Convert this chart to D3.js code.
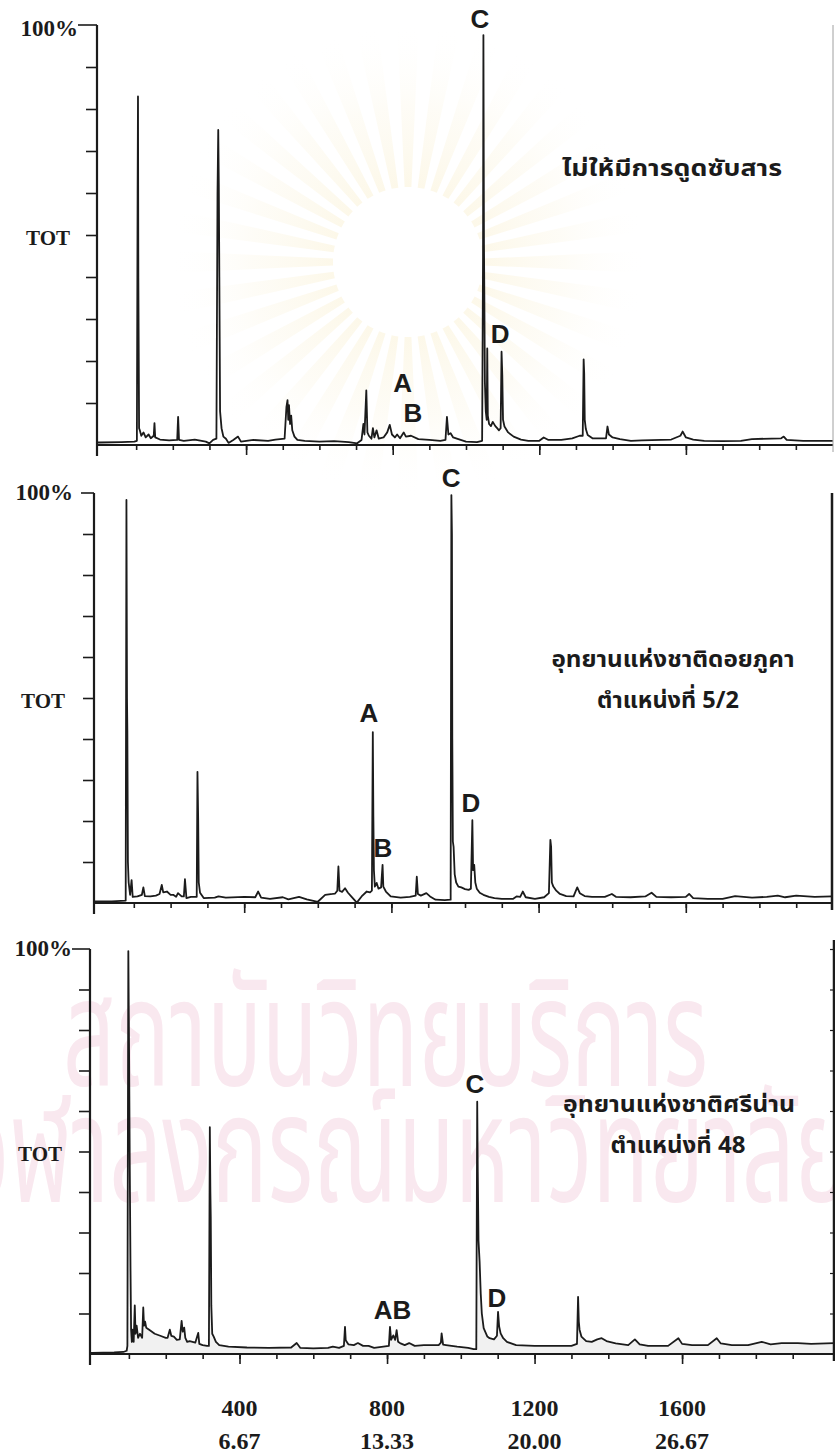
<!DOCTYPE html>
<html>
<head>
<meta charset="utf-8">
<script src="https://cdn.jsdelivr.net/npm/d3@7"></script>
<style>
  html, body { margin: 0; padding: 0; background: #ffffff; }
  svg { display: block; }
</style>
</head>
<body>
<svg id="chart" width="835" height="1452"></svg>
<script>
// Total-ion chromatograms: [scan number, relative intensity %]
const traceControl = [
  [-7,0.6],[0,0.6],[60,0.7],[95,0.8],[102,1.0],[104,60],[105,83],[106,40],[108,4],[110,3.5],[114,2.2],[120,3],
  [126,1.8],[134,2.5],[140,1.6],[148,2.2],[150,5.2],[152,1.8],[165,1.3],[190,1.1],[212,1.2],[214.5,6.7],[217,1.2],
  [230,1.0],[260,1.3],[290,0.8],[300,0.4],[310,1.2],[319,1.5],[322,60],[324,75],[325.5,62],[327,40],[329,8],
  [333,4],[338,2],[345,1.5],[352,0.5],[365,1.2],[378,2.0],[386,0.8],[420,1.2],[460,1.0],[480,1.3],[505,1.5],
  [510,9],[513,10.7],[515,6],[517,9.5],[520,5],[523,7],[526,3.5],[532,2],[540,1.2],[560,1.0],[600,0.8],[640,0.9],
  [680,0.7],[703,0.4],[715,1.2],[720,5],[723,2.5],[728,13],[731,3],[735,2.2],[742,1.5],[746,4],[750,1.8],
  [756,3.5],[762,1.5],[775,1.8],[785,3],[792,4.8],[798,2.5],[806,1.8],[812,2.5],[820,1.6],[830,3],[836,2],
  [850,2.2],[870,1.4],[900,1.2],[930,1.0],[944,1.2],[948,6.7],[952,2.5],[958,2.8],[965,1.8],[975,1.5],
  [1000,0.8],[1030,0.7],[1044,1.0],[1046.5,45],[1047.5,97.6],[1049,48],[1050,36],[1051.5,15],[1054,8],
  [1056.5,6],[1058,23],[1059.5,7],[1063,5],[1068,4.5],[1073,5.5],[1080,4.5],[1085,4],[1090,3.5],[1094.5,4],
  [1097,22.2],[1099,16.7],[1101,6],[1105,4.4],[1115,3],[1130,2],[1150,1.3],[1170,1.0],[1200,1.0],[1212,1.8],
  [1225,1.2],[1260,1.2],[1290,1.6],[1310,2.2],[1318.5,2.2],[1321,20.4],[1322.5,17],[1324,6],[1327,3.8],
  [1332,2.4],[1345,1.6],[1382,1.6],[1386,4.4],[1390,2.5],[1400,1.8],[1420,1.4],[1450,1.0],[1480,1.1],
  [1560,1.3],[1585,2.2],[1591,3.2],[1600,1.8],[1620,1.3],[1650,1.0],[1700,0.9],[1750,1.0],[1780,1.4],
  [1860,1.6],[1867,2.0],[1875,1.2],[1920,1.0],[2001,1.0]
];

const traceDoiPhuKha = [
  [-8,0.4],[0,0.4],[40,0.4],[78,0.6],[80,98.3],[81.5,50],[82.5,42],[84,10],[86,5],[90,2],[94,5.6],[97,1.5],
  [110,1.6],[122,2],[126,3.8],[130,1.7],[145,1.6],[160,1.8],[170,2.2],[176,4.4],[180,2.6],[190,2.8],[200,2],
  [207,2],[215,1.5],[220,2.4],[230,1.6],[236,1.6],[239,5.8],[243,1.2],[255,1.5],[271,1.5],[273,32],[275,20],
  [276.5,5],[280,2.5],[290,1.2],[320,1.3],[330,1.6],[350,1.3],[400,1.5],[430,1.4],[438,2.8],[446,1.3],
  [470,1.0],[505,1.4],[520,0.9],[549,1.5],[570,0.9],[600,0.3],[620,2],[640,2.2],[647,2.3],[653,3],[656,8.9],
  [659,3],[666,2.7],[674,3.6],[682,2.5],[692,1.5],[706,0.1],[719,1.6],[733,2.8],[742,2.6],[747,3],
  [749.5,41.7],[751,21],[752.5,8],[755,4],[760,4.9],[765,3.5],[772,3.8],[776,9.3],[778,4],[785,2.8],
  [798,1.6],[825,1.3],[850,1.5],[866,1.8],[869,6.4],[872,2.2],[880,1.8],[895,2.4],[905,1.6],[920,0.8],
  [945,0.7],[961,0.8],[963,99.5],[964.5,90],[965.5,40],[967,15],[969,13.7],[972,7],[976,5],[982,4],
  [990,3.8],[1000,3.4],[1010,3.2],[1016,3.5],[1018,12],[1020,20.2],[1022,8],[1025,9.3],[1028,5],
  [1032,3.5],[1040,2.5],[1050,2.0],[1065,1.5],[1080,1.2],[1100,1.0],[1130,1.0],[1140,1.6],[1150,1.5],
  [1157,2.8],[1165,1.4],[1190,1.0],[1215,1.4],[1228,2.4],[1232,15.4],[1234,13.7],[1236,5],[1240,4],
  [1248,3],[1258,2.2],[1275,1.7],[1295,1.6],[1305,3.8],[1312,2.4],[1325,1.7],[1345,1.5],[1380,1.5],
  [1399,2.2],[1410,1.5],[1450,1.4],[1490,1.6],[1507,2.5],[1520,1.5],[1560,1.4],[1600,1.5],[1609,2.2],
  [1620,1.2],[1660,1.0],[1700,1.0],[1734,1.7],[1780,1.3],[1820,1.5],[1850,1.8],[1870,1.4],[1900,1.8],
  [1950,1.5],[1997,1.6]
];

const traceSriNan = [
  [-5,0.3],[0,0.3],[60,0.4],[85,0.5],[94,0.8],[96,2],[98.5,99.5],[100.5,75],[102.5,45],[104.5,20],[106,6],
  [108,3],[110,6],[113,3],[116,12],[118,5],[121,7],[125,4],[130,5],[136,4],[139,11.5],[141,7],[144,8],
  [147,6.5],[155,6],[170,5],[185,4.5],[200,4],[205,4],[211,6],[215,4.5],[222,4.3],[230,3.5],[238,3.6],
  [243,8.2],[246,5.5],[250,6.5],[253,4],[258,3],[265,3.2],[280,2.8],[288,5.2],[291,2.5],[300,2.2],[312,2],
  [317,2],[319.5,56],[321,40],[322,34],[323.5,12],[326,5],[330,4.3],[336,3],[345,2.2],[370,1.8],[420,1.6],
  [480,1.5],[540,1.6],[555,2.7],[565,1.5],[600,1.4],[640,1.5],[653,1.8],[670,1.5],[683,2],[686,6.7],
  [688,3.4],[695,2.4],[710,2.2],[721,2.7],[735,2],[750,2],[765,1.5],[790,1.8],[805,2],[808,6.7],[811,3.5],
  [817,4.6],[822,3.5],[826,5.9],[830,3],[835,2.7],[848,2.2],[860,2.7],[875,2],[900,2.2],[940,2.2],
  [946,2.8],[948,5.1],[952,2.3],[960,2.2],[990,1.8],[1020,1.5],[1035,1.2],[1042,1.2],[1044.5,62.3],
  [1046,45],[1048,28],[1051,22.8],[1054,15],[1057,10],[1062,6.4],[1072,4.3],[1078,3.9],[1090,3.6],
  [1098,4.5],[1101,10.4],[1104,6.8],[1108,5.1],[1115,3.9],[1125,3],[1150,2.2],[1200,2.0],[1250,2.0],
  [1300,2.0],[1315,2.5],[1318,14.1],[1320,8],[1322,6],[1327,4.3],[1340,3.2],[1355,3],[1370,3.6],
  [1382,3.9],[1395,3.2],[1420,2.6],[1454,2.2],[1472,3.6],[1485,2.4],[1508,2],[1540,2],[1562,2],
  [1590,3.9],[1600,2.5],[1627,2.2],[1670,2.2],[1694,3.9],[1705,2.6],[1735,2.2],[1779,2.2],[1816,3],
  [1840,2.4],[1870,2.7],[1914,2.7],[1950,2.5],[2012,2.7]
];

// Peak letters: [letter, scan, % height of the letter baseline]
const peaksControl   = [["A",827,12.6],["B",855,5.5],["C",1038,99.3],["D",1093,24.3]];
const peaksDoiPhuKha = [["A",739,44.1],["B",777,11.2],["C",962,101.5],["D",1016,22.2]];
const peaksSriNan    = [["AB",815,8.6],["C",1038,64.4],["D",1098,11.6]];

// Sample captions
const captionControl   = ["ไม่ให้มีการดูดซับสาร"];
const captionDoiPhuKha = ["อุทยานแห่งชาติดอยภูคา", "ตำแหน่งที่ 5/2"];
const captionSriNan    = ["อุทยานแห่งชาติศรีน่าน", "ตำแหน่งที่ 48"];

// Axis ticks
const intensityTicks = [0,10,20,30,40,50,60,70,80,90,100];
const scanMinorTicks = [100,200,300,400,500,600,700,800,900,1000,1100,1200,1300,1400,1500,1600,1700,1800,1900];
const scanMajorTicks = [400,800,1200,1600];
const timeLabels = ["6.67","13.33","20.00","26.67"];

const serif = "'Liberation Serif','Times New Roman',serif";
const sans = "'Liberation Sans',Arial,sans-serif";
const thai = "'Noto Sans Thai','Noto Serif Thai','Loma','Garuda','Norasi','Tlwg Typo','Sarabun','Tahoma','DejaVu Sans',sans-serif";
const ink = "#1b1b1b";

const svg = d3.select("#chart");
const defs = svg.append("defs");

// ---- faint background seal and institutional text ----
const bg = svg.append("g").attr("class", "background");
const rg = defs.append("radialGradient").attr("id", "rayFade")
  .attr("gradientUnits", "userSpaceOnUse").attr("cx", 0).attr("cy", 0).attr("r", 240);
rg.append("stop").attr("offset", "0.3").attr("stop-color", "#f5e3a8").attr("stop-opacity", 0.26);
rg.append("stop").attr("offset", "0.65").attr("stop-color", "#f7ecc8").attr("stop-opacity", 0.16);
rg.append("stop").attr("offset", "1").attr("stop-color", "#ffffff").attr("stop-opacity", 0);

const rayArc = d3.arc().innerRadius(75).outerRadius(240);
const rays = d3.range(0, 360, 10);
bg.append("g").attr("transform", "translate(408,262)")
  .selectAll("path").data(rays).join("path")
  .attr("d", a => rayArc({startAngle: (a - 2.6) * Math.PI / 180, endAngle: (a + 2.6) * Math.PI / 180}))
  .attr("fill", "url(#rayFade)");

bg.append("text").attr("x", 63).attr("y", 1086)
  .attr("font-family", thai).attr("font-size", 150)
  .attr("textLength", 645).attr("lengthAdjust", "spacingAndGlyphs")
  .attr("fill", "#f9e8ef").text("สถาบันวิทยบริการ");
bg.append("text").attr("x", -40).attr("y", 1202)
  .attr("font-family", thai).attr("font-size", 150)
  .attr("textLength", 890).attr("lengthAdjust", "spacingAndGlyphs")
  .attr("fill", "#f9e8ef").text("จุฬาลงกรณ์มหาวิทยาลัย");

// ---- panels ----
const panels = [
  { trace: traceControl, peaks: peaksControl, caption: captionControl,
    x0: 99.5, k: 0.3665, axisX: 97, rightX: 833, top: 25, bottom: 445,
    rightColor: "#a0a0a0", rightWidth: 1, rightTop: 25, rightTicks: false, fill: null,
    label100: [78, 36], labelTOT: [70, 245], topTickFrom: 78, captionPos: [[672, 176, 220]] },
  { trace: traceDoiPhuKha, peaks: peaksDoiPhuKha, caption: captionDoiPhuKha,
    x0: 97, k: 0.368, axisX: 94, rightX: 832, top: 493, bottom: 903,
    rightColor: ink, rightWidth: 2.5, rightTop: 493, rightTicks: false, fill: null,
    label100: [73, 500], labelTOT: [65, 708], topTickFrom: 81, captionPos: [[673, 667, 243], [668, 708, 142]] },
  { trace: traceSriNan, peaks: peaksSriNan, caption: captionSriNan,
    x0: 92, k: 0.3688, axisX: 90, rightX: 834, top: 949, bottom: 1354,
    rightColor: ink, rightWidth: 2.5, rightTop: 940, rightTicks: true, fill: "#f1f1f1",
    label100: [72, 956], labelTOT: [62, 1161], topTickFrom: 72, captionPos: [[679, 1112, 232], [678, 1153, 135]] }
];

panels.forEach((p, i) => {
  const g = svg.append("g").attr("class", "panel panel-" + i);
  const x = d3.scaleLinear().domain([0, 2000]).range([p.x0, p.x0 + 2000 * p.k]);
  const y = d3.scaleLinear().domain([0, 100]).range([p.bottom, p.top]);

  // area under trace (bottom panel only)
  if (p.fill) {
    g.append("path").datum(p.trace)
      .attr("d", d3.area().x(d => x(d[0])).y0(p.bottom).y1(d => y(d[1])))
      .attr("fill", p.fill);
  }

  // chromatogram trace
  g.append("path").datum(p.trace)
    .attr("d", d3.line().x(d => x(d[0])).y(d => y(d[1])))
    .attr("fill", "none").attr("stroke", ink).attr("stroke-width", 1.8)
    .attr("stroke-linejoin", "round");

  // x axis: minor and major ticks
  const xMinor = g.append("g").attr("transform", `translate(0,${p.bottom})`)
    .call(d3.axisBottom(x).tickValues(scanMinorTicks).tickSize(5).tickFormat(""));
  const xMajor = g.append("g").attr("transform", `translate(0,${p.bottom})`)
    .call(d3.axisBottom(x).tickValues(scanMajorTicks).tickSize(10).tickFormat(""));
  [xMinor, xMajor].forEach(a => {
    a.select(".domain").remove();
    a.selectAll(".tick line").attr("stroke", ink).attr("stroke-width", 1.6);
  });
  g.append("line").attr("x1", p.axisX).attr("x2", p.rightX)
    .attr("y1", p.bottom).attr("y2", p.bottom)
    .attr("stroke", ink).attr("stroke-width", 2.2);

  // y axis
  const yAx = g.append("g").attr("transform", `translate(${p.axisX},0)`)
    .call(d3.axisLeft(y).tickValues(intensityTicks.slice(1, 10)).tickSize(11).tickFormat(""));
  yAx.select(".domain").remove();
  yAx.selectAll(".tick line").attr("stroke", ink).attr("stroke-width", 1.6);
  g.append("line").attr("x1", p.axisX).attr("x2", p.axisX)
    .attr("y1", p.top).attr("y2", p.bottom + 11)
    .attr("stroke", ink).attr("stroke-width", 2.2);
  g.append("line").attr("x1", p.topTickFrom).attr("x2", p.axisX)
    .attr("y1", y(100)).attr("y2", y(100))
    .attr("stroke", ink).attr("stroke-width", 1.6);

  g.append("text").attr("x", p.label100[0]).attr("y", p.label100[1])
    .attr("text-anchor", "end").attr("font-family", serif).attr("font-weight", "bold")
    .attr("font-size", 23).attr("fill", ink).text("100%");
  g.append("text").attr("x", p.labelTOT[0]).attr("y", p.labelTOT[1])
    .attr("text-anchor", "end").attr("font-family", serif).attr("font-weight", "bold")
    .attr("font-size", 21).attr("fill", ink).text("TOT");

  // right frame
  g.append("line").attr("x1", p.rightX).attr("x2", p.rightX)
    .attr("y1", p.rightTop).attr("y2", p.bottom + 7)
    .attr("stroke", p.rightColor).attr("stroke-width", p.rightWidth);
  if (p.rightTicks) {
    const rAx = g.append("g").attr("transform", `translate(${p.rightX},0)`)
      .call(d3.axisLeft(y).tickValues(intensityTicks.slice(1)).tickSize(4).tickFormat(""));
    rAx.select(".domain").remove();
    rAx.selectAll(".tick line").attr("stroke", ink).attr("stroke-width", 1.2);
  }

  // peak letters
  g.selectAll("text.peak").data(p.peaks).join("text").attr("class", "peak")
    .attr("x", d => x(d[1])).attr("y", d => y(d[2]))
    .attr("text-anchor", "middle").attr("font-family", sans).attr("font-weight", "bold")
    .attr("font-size", 26).attr("fill", ink).text(d => d[0]);

  // caption
  p.caption.forEach((line, j) => {
    const [cx, cy, w] = p.captionPos[j];
    g.append("text").attr("x", cx).attr("y", cy)
      .attr("text-anchor", "middle").attr("font-family", thai).attr("font-weight", "bold")
      .attr("font-size", 23).attr("fill", ink)
      .attr("textLength", w).attr("lengthAdjust", "spacingAndGlyphs").text(line);
  });

  // scan / time labels under the bottom panel
  if (i === panels.length - 1) {
    const lab = g.append("g");
    lab.selectAll("text.scan").data(scanMajorTicks).join("text").attr("class", "scan")
      .attr("x", d => x(d)).attr("y", 1416).attr("text-anchor", "middle")
      .attr("font-family", serif).attr("font-weight", "bold").attr("font-size", 24)
      .attr("fill", ink).text(d => d);
    lab.selectAll("text.time").data(timeLabels).join("text").attr("class", "time")
      .attr("x", (d, j) => x(scanMajorTicks[j])).attr("y", 1449).attr("text-anchor", "middle")
      .attr("font-family", serif).attr("font-weight", "bold").attr("font-size", 24)
      .attr("fill", ink).text(d => d);
  }
});
</script>
</body>
</html>
